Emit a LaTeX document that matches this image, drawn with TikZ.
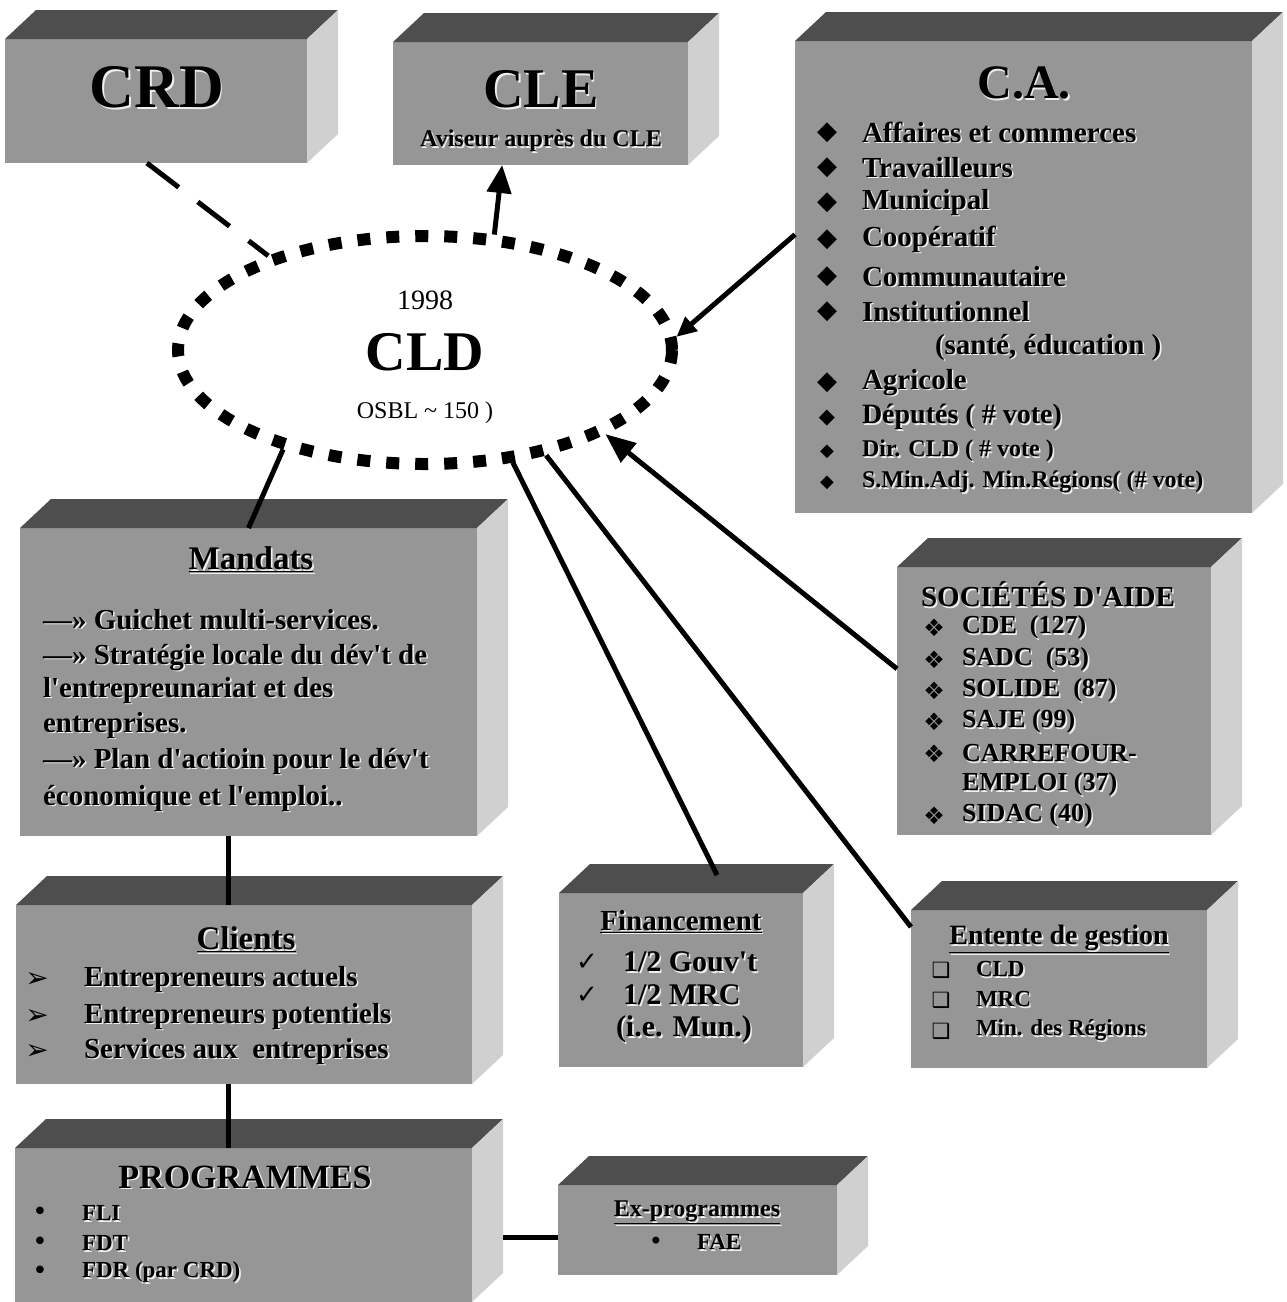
\documentclass[tikz,border=0pt]{standalone}
\usepackage{fontspec}
\setmainfont{Liberation Serif}
\newfontfamily\symf{DejaVu Sans}
\usetikzlibrary{arrows.meta,shapes.geometric,calc}
\definecolor{frontc}{RGB}{150,150,150}
\definecolor{topc}{RGB}{78,78,78}
\definecolor{sidec}{RGB}{208,208,208}
\definecolor{shadc}{RGB}{238,238,238}
\newcommand\fsz[1]{\fontsize{#1}{#1}\selectfont}
\newcommand\shd[1]{\leavevmode\rlap{\hspace{1.6pt}\raisebox{-1.6pt}{\textcolor{shadc}{#1}}}#1}
\newcommand\ap{\textquotesingle}
\newcommand\blockbox[5]{%
  \node[frontface, anchor=north west, minimum width={(#4-#2)*1pt}, minimum height={(#5-#3)*1pt}] (#1) at (#2,#3) {};
  \fill[topc] (#1.north west) -- ++(31,-29) -- ([shift={(31,-29)}]#1.north east) -- (#1.north east) -- cycle;
  \fill[sidec] (#1.north east) -- ++(31,-29) -- ([shift={(31,-29)}]#1.south east) -- (#1.south east) -- cycle;
}
\tikzset{
  frontface/.style={fill=frontc, inner sep=0pt, outer sep=0pt},
  txt/.style={inner sep=0pt, outer sep=0pt, text=black},
  lft/.style={txt, anchor=west},
  conn/.style={line width=5pt, draw=black},
  symb/.style={inner sep=0pt, outer sep=0pt, font={\symf\fsz{#1}}},
}
\begin{document}
\begin{tikzpicture}[x=1pt,y=-1pt]
\fill[white] (0,0) rectangle (1287,1302);
\useasboundingbox (0,0) rectangle (1287,1302);

% ---- 3D boxes
\blockbox{crd}{5}{39}{307}{163}
\blockbox{cle}{393}{42}{688}{165}
\blockbox{ca}{795}{41}{1252}{513}
\blockbox{mand}{20}{528}{477}{836}
\blockbox{cli}{16}{905}{472}{1084}
\blockbox{prog}{15}{1148}{472}{1302}
\blockbox{fin}{559}{893}{803}{1067}
\blockbox{ent}{911}{910}{1207}{1068}
\blockbox{soc}{897}{567}{1211}{835}
\blockbox{exp}{558}{1185}{837}{1275}

% ---- CLD ellipse
\node[draw, ellipse, line width=12pt, dash pattern=on 13pt off 16pt, minimum width=494pt, minimum height=228pt, inner sep=0pt] (cld) at (425,350) {};
\node[txt, font=\fsz{28}] (cldy) at (425,300) {1998};
\node[txt, font={\bfseries\fsz{56}}] (cldt) at (425,352) {CLD};
\node[txt, font=\fsz{24}] (cldo) at (425,413) {OSBL \textasciitilde{} 150 )};

% ---- CRD / CLE
\node[txt, font={\bfseries\fsz{62}}] (crdt) at (157,88) {\shd{CRD}};
\node[txt, font={\bfseries\fsz{56}}] (clet) at (541,90) {\shd{CLE}};
\node[txt, font={\bfseries\fsz{24}}] (clea) at (541,142) {\shd{Aviseur auprès du CLE}};

% ---- C.A.
\node[txt, font={\bfseries\fsz{48}}] (cat) at (1024,84) {\shd{C.A.}};
\node[symb=26] (cab1) at (827,133) {◆};
\node[lft, font={\bfseries\fsz{29}}] (ca1) at (862,133) {\shd{Affaires et commerces}};
\node[symb=26] (cab2) at (827,168) {◆};
\node[lft, font={\bfseries\fsz{29}}] (ca2) at (862,168) {\shd{Travailleurs}};
\node[symb=26] (cab3) at (827,203) {◆};
\node[lft, font={\bfseries\fsz{29}}] (ca3) at (862,203) {\shd{Municipal}};
\node[symb=26] (cab4) at (827,240) {◆};
\node[lft, font={\bfseries\fsz{29}}] (ca4) at (862,240) {\shd{Coopératif}};
\node[symb=26] (cab5) at (827,277) {◆};
\node[lft, font={\bfseries\fsz{29}}] (ca5) at (862,277) {\shd{Communautaire}};
\node[symb=26] (cab6) at (827,312) {◆};
\node[lft, font={\bfseries\fsz{29}}] (ca6) at (862,312) {\shd{Institutionnel}};
\node[lft, font={\bfseries\fsz{29}}] (ca6b) at (935,348) {\shd{(santé, éducation )}};
\node[symb=26] (cab7) at (827,383) {◆};
\node[lft, font={\bfseries\fsz{29}}] (ca7) at (862,383) {\shd{Agricole}};
\node[symb=21] (cab8) at (827,418) {◆};
\node[lft, font={\bfseries\fsz{28}}] (ca8) at (862,418) {\shd{Députés ( \# vote)}};
\node[symb=18] (cab9) at (827,452) {◆};
\node[lft, font={\bfseries\fsz{24}}] (ca9) at (862,452) {\shd{Dir. CLD ( \# vote )}};
\node[symb=18] (cab10) at (827,483) {◆};
\node[lft, font={\bfseries\fsz{24}}] (ca10) at (862,483) {\shd{S.Min.Adj. Min.Régions( (\# vote)}};

% ---- Mandats
\node[txt, font={\bfseries\fsz{33}}] (mandt) at (251,560) {\shd{\underline{Mandats}}};
\node[lft, font={\bfseries\fsz{29}}] (mand1) at (43,620) {\shd{—» Guichet multi-services.}};
\node[lft, font={\bfseries\fsz{29}}] (mand2) at (43,658) {\shd{—» Stratégie locale du dév\ap t de}};
\node[lft, font={\bfseries\fsz{29}}] (mand3) at (43,691) {\shd{l\ap entrepreunariat et des}};
\node[lft, font={\bfseries\fsz{29}}] (mand4) at (43,726) {\shd{entreprises.}};
\node[lft, font={\bfseries\fsz{29}}] (mand5) at (43,762) {\shd{—» Plan d\ap actioin pour le dév\ap t}};
\node[lft, font={\bfseries\fsz{29}}] (mand6) at (43,799) {\shd{économique et l\ap emploi..}};

% ---- Clients
\node[txt, font={\bfseries\fsz{33}}] (clit) at (246,940) {\shd{\underline{Clients}}};
\node[symb=28] (clib1) at (37,980) {➢};
\node[lft, font={\bfseries\fsz{29}}] (cli1) at (84,980) {\shd{Entrepreneurs actuels}};
\node[symb=28] (clib2) at (37,1017) {➢};
\node[lft, font={\bfseries\fsz{29}}] (cli2) at (84,1017) {\shd{Entrepreneurs potentiels}};
\node[symb=28] (clib3) at (37,1052) {➢};
\node[lft, font={\bfseries\fsz{29}}] (cli3) at (84,1052) {\shd{Services aux\ \ entreprises}};

% ---- PROGRAMMES
\node[txt, font={\bfseries\fsz{34}}] (progt) at (245,1178) {\shd{PROGRAMMES}};
\node[symb=26] (progb1) at (40,1214) {•};
\node[lft, font={\bfseries\fsz{23}}] (prog1) at (82,1214) {\shd{FLI}};
\node[symb=26] (progb2) at (40,1244) {•};
\node[lft, font={\bfseries\fsz{23}}] (prog2) at (82,1244) {\shd{FDT}};
\node[symb=26] (progb3) at (40,1273) {•};
\node[lft, font={\bfseries\fsz{23}}] (prog3) at (82,1273) {\shd{FDR (par CRD)}};

% ---- Financement
\node[txt, font={\bfseries\fsz{29}}] (fint) at (681,922) {\shd{\underline{Financement}}};
\node[symb=26] (finb1) at (587,962) {✓};
\node[lft, font={\bfseries\fsz{30}}] (fin1) at (623,963) {\shd{1/2 Gouv\ap t}};
\node[symb=26] (finb2) at (587,995) {✓};
\node[lft, font={\bfseries\fsz{30}}] (fin2) at (623,996) {\shd{1/2 MRC}};
\node[lft, font={\bfseries\fsz{30}}] (fin3) at (616,1030) {\shd{(i.e. Mun.)}};

% ---- Entente de gestion
\node[txt, font={\bfseries\fsz{28}}] (entt) at (1059,940) {\shd{\underline{Entente de gestion}}};
\node[symb=21] (entb1) at (941,970) {❑};
\node[lft, font={\bfseries\fsz{23}}] (ent1) at (976,970) {\shd{CLD}};
\node[symb=21] (entb2) at (941,1000) {❑};
\node[lft, font={\bfseries\fsz{23}}] (ent2) at (976,1000) {\shd{MRC}};
\node[symb=21] (entb3) at (941,1031) {❑};
\node[lft, font={\bfseries\fsz{23}}] (ent3) at (976,1031) {\shd{Min. des Régions}};

% ---- Sociétés d'aide
\node[txt, font={\bfseries\fsz{29}}] (soct) at (1048,595) {\shd{SOCIÉTÉS D\ap AIDE}};
\node[symb=24] (socb1) at (934,628) {❖};
\node[lft, font={\bfseries\fsz{26}}] (soc1) at (962,628) {\shd{CDE\ \ (127)}};
\node[symb=24] (socb2) at (934,660) {❖};
\node[lft, font={\bfseries\fsz{26}}] (soc2) at (962,660) {\shd{SADC\ \ (53)}};
\node[symb=24] (socb3) at (934,691) {❖};
\node[lft, font={\bfseries\fsz{26}}] (soc3) at (962,691) {\shd{SOLIDE\ \ (87)}};
\node[symb=24] (socb4) at (934,722) {❖};
\node[lft, font={\bfseries\fsz{26}}] (soc4) at (962,722) {\shd{SAJE (99)}};
\node[symb=24] (socb5) at (934,754) {❖};
\node[lft, font={\bfseries\fsz{26}}] (soc5) at (962,754) {\shd{CARREFOUR-}};
\node[lft, font={\bfseries\fsz{26}}] (soc5b) at (962,785) {\shd{EMPLOI (37)}};
\node[symb=24] (socb6) at (934,816) {❖};
\node[lft, font={\bfseries\fsz{26}}] (soc6) at (962,816) {\shd{SIDAC (40)}};

% ---- Ex-programmes
\node[txt, font={\bfseries\fsz{24}}] (expt) at (697,1213) {\shd{\underline{Ex-programmes}}};
\node[symb=24] (expb) at (656,1243) {•};
\node[lft, font={\bfseries\fsz{23}}] (exp1) at (697,1243) {\shd{FAE}};

% ---- connectors
\draw[conn, dash pattern=on 40pt off 24pt] ($(crd.south west)!0.47!(crd.south east)$) -- (cld.149);
\draw[conn, -{Triangle[length=28pt,width=24pt]}] (cld.59) -- ($(cle.south west)!0.37!(cle.south east)$);
\draw[conn, -{Triangle[length=20pt,width=18pt]}] ($(ca.north west)!0.41!(ca.south west)$) -- (cld.3);
\draw[conn] (cld.215) -- (mand.north);
\draw[conn] (cld.-52) -- ([shift={(36,-18)}]fin.north);
\draw[conn] (cld.-41) -- ([shift={(0,17)}]ent.north west);
\draw[conn, -{Triangle[length=30pt,width=24pt]}] ($(soc.north west)!0.38!(soc.south west)$) -- (cld.-25);
\coordinate (cliN) at ($(cli.north west)!0.465!(cli.north east)$);
\draw[conn] (cliN |- mand.south) -- (cliN);
\coordinate (progN) at ($(prog.north west)!0.468!(prog.north east)$);
\draw[conn] (progN |- cli.south) -- (progN);
\coordinate (progR) at ([xshift=31pt]prog.east);
\coordinate (expL) at ([yshift=-7pt]exp.west);
\draw[conn] (expL) -- (expL -| progR);
\end{tikzpicture}
\end{document}
